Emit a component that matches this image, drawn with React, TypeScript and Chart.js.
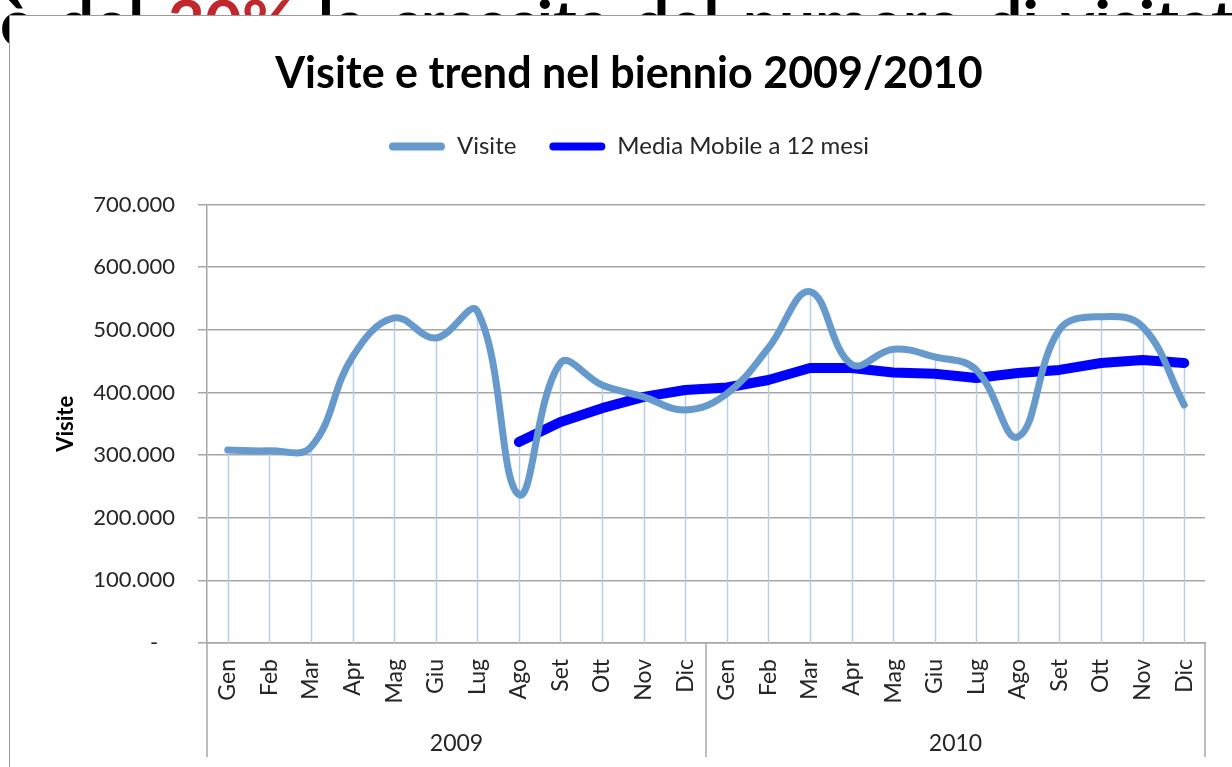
import React, { useEffect, useRef } from "react";
import { Chart, registerables } from "chart.js";

Chart.register(...registerables);

const months = ["Gen", "Feb", "Mar", "Apr", "Mag", "Giu", "Lug", "Ago", "Set", "Ott", "Nov", "Dic"];
const years = ["2009", "2010"];
const categories = [...months, ...months];

const visite = [
  308000, 307000, 313000, 457000, 519000, 487000, 530000, 237000, 447000, 412000, 393000, 372000,
  398000, 471000, 561000, 445000, 469000, 457000, 436000, 329000, 500000, 521000, 505000, 380000,
];

const mediaMobile = [
  null, null, null, null, null, null, null, 321000, 353000, 375000, 393000, 404000,
  408000, 420000, 439000, 439000, 432000, 430000, 423000, 431000, 436000, 447000, 452000, 447000,
];

const yTicks = [0, 100000, 200000, 300000, 400000, 500000, 600000, 700000];

const chartTitle = "Visite e trend nel biennio 2009/2010";
const yAxisTitle = "Visite";
const seriesNames = ["Visite", "Media Mobile a 12 mesi"];

const GRID = "#A6A6A6";
const TEXT = "#262626";

const dropLines = {
  id: "dropLines",
  beforeDatasetsDraw(chart: any) {
    const { ctx, chartArea, scales } = chart;
    const x = scales.x;
    const y = scales.y;
    ctx.save();
    ctx.strokeStyle = "#B9CDE5";
    ctx.lineWidth = 1.5;
    categories.forEach((_, i) => {
      const vals = chart.data.datasets
        .map((d: any) => d.data[i])
        .filter((v: any) => v !== null && v !== undefined);
      if (!vals.length) return;
      const top = Math.max(...vals);
      const px = Math.round(x.getPixelForValue(i)) + 0.5;
      ctx.beginPath();
      ctx.moveTo(px, y.getPixelForValue(top));
      ctx.lineTo(px, chartArea.bottom);
      ctx.stroke();
    });
    ctx.restore();
  },
};

const groupSeparators = {
  id: "groupSeparators",
  afterDraw(chart: any) {
    const { ctx, chartArea, scales } = chart;
    const x = scales.x;
    const x2 = scales.x2;
    const mid = (x.getPixelForValue(11) + x.getPixelForValue(12)) / 2;
    ctx.save();
    ctx.strokeStyle = GRID;
    ctx.lineWidth = 1.5;
    [x.left, mid, x.right].forEach((px: number) => {
      ctx.beginPath();
      ctx.moveTo(px, chartArea.bottom);
      ctx.lineTo(px, x2.bottom);
      ctx.stroke();
    });
    ctx.restore();
  },
};

const legendGap = {
  id: "legendGap",
  beforeInit(chart: any) {
    const legend = chart.legend;
    if (!legend) return;
    const originalFit = legend.fit;
    legend.fit = function fit() {
      originalFit.bind(legend)();
      this.height += 36;
    };
  },
};

export default function App() {
  const canvasRef = useRef<HTMLCanvasElement | null>(null);

  useEffect(() => {
    if (!canvasRef.current) return;
    Chart.defaults.font.family = "Lato, 'DejaVu Sans', sans-serif";
    Chart.defaults.color = TEXT;
    const chart = new Chart(canvasRef.current, {
      type: "line",
      data: {
        labels: categories,
        datasets: [
          {
            label: seriesNames[0],
            data: visite,
            borderColor: "#6699CC",
            backgroundColor: "#6699CC",
            borderWidth: 7,
            tension: 0.4,
            pointRadius: 0,
            borderCapStyle: "round",
            borderJoinStyle: "round",
            fill: false,
          },
          {
            label: seriesNames[1],
            data: mediaMobile as any,
            borderColor: "#0000FF",
            backgroundColor: "#0000FF",
            borderWidth: 10,
            tension: 0,
            pointRadius: 0,
            borderCapStyle: "round",
            borderJoinStyle: "round",
            fill: false,
            spanGaps: false,
          },
        ],
      },
      options: {
        responsive: false,
        animation: false,
        events: [],
        layout: { padding: { left: 43, right: 43, top: 0, bottom: 19 } },
        plugins: {
          title: {
            display: true,
            text: chartTitle,
            color: "#000",
            font: { size: 43, weight: "bold" },
            padding: { top: 32, bottom: 2 },
          },
          legend: {
            display: true,
            position: "top",
            labels: {
              font: { size: 24 },
              color: TEXT,
              boxWidth: 56,
              boxHeight: 8,
              padding: 33,
              generateLabels: (chart: any) =>
                chart.data.datasets.map((ds: any, i: number) => ({
                  text: ds.label,
                  fillStyle: ds.borderColor,
                  strokeStyle: ds.borderColor,
                  lineWidth: 0,
                  hidden: false,
                  datasetIndex: i,
                  borderRadius: 4,
                  fontColor: TEXT,
                })),
            },
          },
          tooltip: { enabled: false },
        },
        scales: {
          x: {
            type: "category",
            position: "bottom",
            weight: 0,
            offset: true,
            grid: { display: false, drawTicks: false },
            border: { display: true, color: GRID, width: 1.5 },
            ticks: {
              autoSkip: false,
              minRotation: 90,
              maxRotation: 90,
              padding: 16,
              font: { size: 23 },
              color: TEXT,
            },
            afterFit: (s: any) => {
              s.height = 80;
            },
          },
          x2: {
            type: "category",
            position: "bottom",
            weight: 1,
            labels: years,
            offset: true,
            grid: { display: false, drawTicks: false },
            border: { display: false },
            ticks: { padding: 7, font: { size: 23 }, color: TEXT, maxRotation: 0, minRotation: 0 },
            afterFit: (s: any) => {
              s.height = 34;
            },
          },
          y: {
            min: 0,
            max: 700000,
            afterBuildTicks: (s: any) => {
              s.ticks = yTicks.map((v) => ({ value: v }));
            },
            grid: { color: GRID, lineWidth: 1.5, drawTicks: true, tickLength: 9 },
            border: { display: true, color: GRID, width: 1.5 },
            ticks: {
              padding: 23,
              font: { size: 22 },
              color: TEXT,
              callback: (v: any) => (Number(v) === 0 ? "-   " : `${Number(v) / 1000}.000`),
            },
            title: {
              display: true,
              text: yAxisTitle,
              font: { size: 22, weight: "bold" },
              color: "#000",
              padding: { top: 0, bottom: 0 },
            },
            afterFit: (s: any) => {
              s.width = 154;
            },
          },
        },
      },
      plugins: [dropLines, groupSeparators, legendGap],
    });
    return () => chart.destroy();
  }, []);

  return (
    <div
      style={{
        position: "fixed",
        left: 0,
        top: 0,
        width: 1232,
        height: 767,
        overflow: "hidden",
        background: "#fff",
      }}
    >
      <svg
        width={1232}
        height={80}
        style={{ position: "absolute", left: 0, top: 0 }}
      >
        <text
          x={0}
          y={46}
          style={{
            fontFamily: "Lato, 'DejaVu Sans', sans-serif",
            fontWeight: "bold",
            fontSize: 64,
            wordSpacing: 8,
          }}
          fill="#000"
        >
          è del <tspan fill="#C0282D">30%</tspan> la crescita del numero di visitatori
        </text>
      </svg>
      <div
        style={{
          position: "absolute",
          left: 9,
          top: 15,
          width: 1300,
          height: 800,
          border: "1px solid #9A9A9A",
          background: "#fff",
        }}
      >
        <canvas
          ref={canvasRef}
          width={1238}
          height={760}
          style={{ position: "absolute", left: 0, top: 0, width: 1238, height: 760 }}
        />
      </div>
    </div>
  );
}
